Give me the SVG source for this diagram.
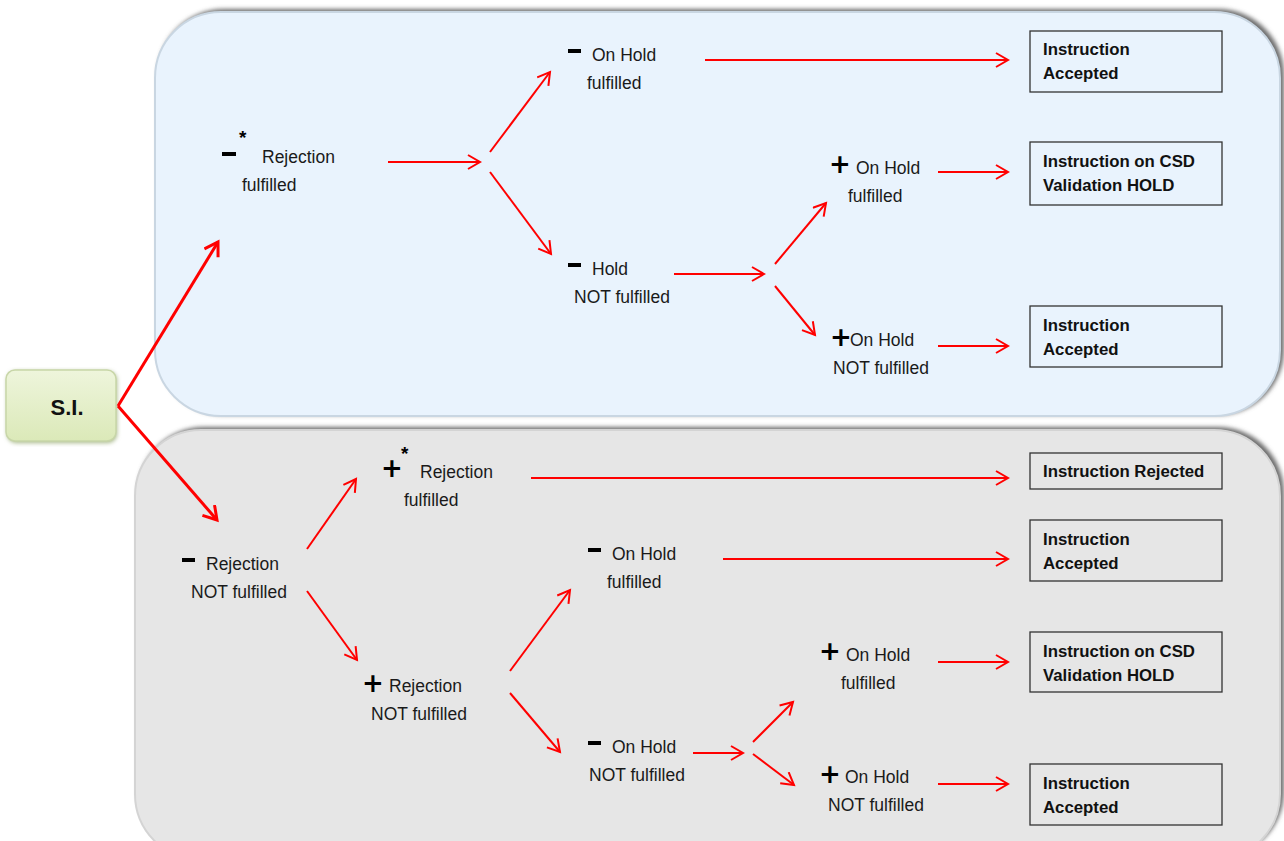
<svg xmlns="http://www.w3.org/2000/svg" width="1284" height="841" viewBox="0 0 1284 841">
<defs>
<style>
.t{font-family:"Liberation Sans",Arial,sans-serif;font-size:17.5px;fill:#1a1a1a}
.b{font-family:"Liberation Sans",Arial,sans-serif;font-size:16.8px;font-weight:bold;fill:#111}
.s{font-family:"DejaVu Sans",sans-serif;font-size:26px;font-weight:bold;fill:#000}
.st{font-family:"Liberation Sans",Arial,sans-serif;font-size:19px;font-weight:bold;fill:#000}
.box{fill:none;stroke:#333;stroke-width:1.3}
.c{stroke:#ff0000;stroke-width:2;fill:none;marker-end:url(#ah)}
.ct{stroke:#ff0000;stroke-width:3;fill:none;marker-end:url(#ahb)}
</style>
<marker id="ah" markerUnits="userSpaceOnUse" markerWidth="20" markerHeight="20" refX="14" refY="8" orient="auto">
<path d="M2,1 L14,8 L2,15" fill="none" stroke="#ff0000" stroke-width="2"/>
</marker>
<marker id="ahb" markerUnits="userSpaceOnUse" markerWidth="24" markerHeight="24" refX="15" refY="9" orient="auto">
<path d="M2,1 L15,9 L2,17" fill="none" stroke="#ff0000" stroke-width="3"/>
</marker>
<filter id="sh" x="-5%" y="-5%" width="110%" height="110%">
<feGaussianBlur stdDeviation="2"/>
</filter>
<linearGradient id="gsi" x1="0" y1="0" x2="0" y2="1">
<stop offset="0" stop-color="#eef5dc"/>
<stop offset="1" stop-color="#dbe9b8"/>
</linearGradient>
</defs>
<rect width="1284" height="841" fill="#ffffff"/>
<g id="panel-top">
<rect x="158" y="9" width="1126" height="406" rx="66" fill="#6e6e6e" filter="url(#sh)"/>
<rect x="155" y="12" width="1125" height="404" rx="66" fill="#e9f3fd" stroke="#c9d6e2" stroke-width="2"/>
</g>
<g id="panel-bottom">
<rect x="138" y="427" width="1146" height="430" rx="66" fill="#6e6e6e" filter="url(#sh)"/>
<rect x="135" y="430" width="1145" height="430" rx="66" fill="#e6e6e6" stroke="#d4d4d4" stroke-width="2"/>
</g>
<g id="si">
<rect x="7" y="371" width="110" height="72" rx="9" fill="#a9b98a" filter="url(#sh)"/>
<rect x="6" y="370" width="110" height="71" rx="9" fill="url(#gsi)" stroke="#c8d6a8" stroke-width="1.5"/>
<text x="67" y="415" text-anchor="middle" style="font-family:'Liberation Sans',Arial,sans-serif;font-size:22px;font-weight:bold;fill:#111">S.I.</text>
</g>
<g id="connectors">
<path class="ct" d="M118,406 L218,242"/>
<path class="ct" d="M118,406 L217,520"/>
<path class="c" d="M388,162 L480,162"/>
<path class="c" d="M490,152 L550,72"/>
<path class="c" d="M490,172 L551,254"/>
<path class="c" d="M705,60 L1008,60"/>
<path class="c" d="M674,274 L764,274"/>
<path class="c" d="M775,264 L826,203"/>
<path class="c" d="M775,286 L815,335"/>
<path class="c" d="M938,172 L1008,172"/>
<path class="c" d="M938,346 L1008,346"/>
<path class="c" d="M307,549 L356,479"/>
<path class="c" d="M307,591 L357,660"/>
<path class="c" d="M531,478 L1008,478"/>
<path class="c" d="M723,559 L1008,559"/>
<path class="c" d="M510,671 L570,590"/>
<path class="c" d="M510,693 L560,752"/>
<path class="c" d="M693,753 L743,753"/>
<path class="c" d="M753,742 L793,702"/>
<path class="c" d="M753,754 L794,785"/>
<path class="c" d="M938,662 L1008,662"/>
<path class="c" d="M938,784 L1008,784"/>
</g>
<g id="n-rej-ful-top">
<rect x="222" y="152" width="14" height="4" fill="#000"/>
<text class="st" x="239" y="144">*</text>
<text class="t" x="262" y="163">Rejection</text>
<text class="t" x="242" y="191">fulfilled</text>
</g>
<g id="n-onhold-ful-top">
<rect x="568" y="49" width="13" height="4" fill="#000"/>
<text class="t" x="592" y="61">On Hold</text>
<text class="t" x="587" y="89">fulfilled</text>
</g>
<g id="n-hold-notful-top">
<rect x="568" y="263" width="13" height="4" fill="#000"/>
<text class="t" x="592" y="275">Hold</text>
<text class="t" x="574" y="303">NOT fulfilled</text>
</g>
<g id="n-plus-onhold-ful-top">
<text class="s" x="829" y="173">+</text>
<text class="t" x="856" y="174">On Hold</text>
<text class="t" x="848" y="202">fulfilled</text>
</g>
<g id="n-plus-onhold-notful-top">
<text class="s" x="830" y="346">+</text>
<text class="t" x="850" y="346">On Hold</text>
<text class="t" x="833" y="374">NOT fulfilled</text>
</g>
<g id="r1">
<rect class="box" x="1030" y="31" width="192" height="61"/>
<text class="b" x="1043" y="55">Instruction</text>
<text class="b" x="1043" y="79">Accepted</text>
</g>
<g id="r2">
<rect class="box" x="1030" y="142" width="192" height="63"/>
<text class="b" x="1043" y="167">Instruction on CSD</text>
<text class="b" x="1043" y="191">Validation HOLD</text>
</g>
<g id="r3">
<rect class="box" x="1030" y="306" width="192" height="61"/>
<text class="b" x="1043" y="331">Instruction</text>
<text class="b" x="1043" y="355">Accepted</text>
</g>
<g id="n-rej-notful-bot">
<rect x="182" y="558" width="13" height="4" fill="#000"/>
<text class="t" x="206" y="570">Rejection</text>
<text class="t" x="191" y="598">NOT fulfilled</text>
</g>
<g id="n-plus-rej-ful-bot">
<text class="s" x="381" y="477">+</text>
<text class="st" x="401" y="460">*</text>
<text class="t" x="420" y="478">Rejection</text>
<text class="t" x="404" y="506">fulfilled</text>
</g>
<g id="n-onhold-ful-bot">
<rect x="588" y="548" width="13" height="4" fill="#000"/>
<text class="t" x="612" y="560">On Hold</text>
<text class="t" x="607" y="588">fulfilled</text>
</g>
<g id="n-plus-rej-notful-bot">
<text class="s" x="362" y="692">+</text>
<text class="t" x="389" y="692">Rejection</text>
<text class="t" x="371" y="720">NOT fulfilled</text>
</g>
<g id="n-onhold-notful-bot">
<rect x="588" y="741" width="13" height="4" fill="#000"/>
<text class="t" x="612" y="753">On Hold</text>
<text class="t" x="589" y="781">NOT fulfilled</text>
</g>
<g id="n-plus-onhold-ful-bot">
<text class="s" x="819" y="660">+</text>
<text class="t" x="846" y="661">On Hold</text>
<text class="t" x="841" y="689">fulfilled</text>
</g>
<g id="n-plus-onhold-notful-bot">
<text class="s" x="819" y="783">+</text>
<text class="t" x="845" y="783">On Hold</text>
<text class="t" x="828" y="811">NOT fulfilled</text>
</g>
<g id="r4">
<rect class="box" x="1030" y="453" width="192" height="36"/>
<text class="b" x="1043" y="477">Instruction Rejected</text>
</g>
<g id="r5">
<rect class="box" x="1030" y="520" width="192" height="61"/>
<text class="b" x="1043" y="545">Instruction</text>
<text class="b" x="1043" y="569">Accepted</text>
</g>
<g id="r6">
<rect class="box" x="1030" y="632" width="192" height="60"/>
<text class="b" x="1043" y="657">Instruction on CSD</text>
<text class="b" x="1043" y="681">Validation HOLD</text>
</g>
<g id="r7">
<rect class="box" x="1030" y="764" width="192" height="61"/>
<text class="b" x="1043" y="789">Instruction</text>
<text class="b" x="1043" y="813">Accepted</text>
</g>
</svg>
